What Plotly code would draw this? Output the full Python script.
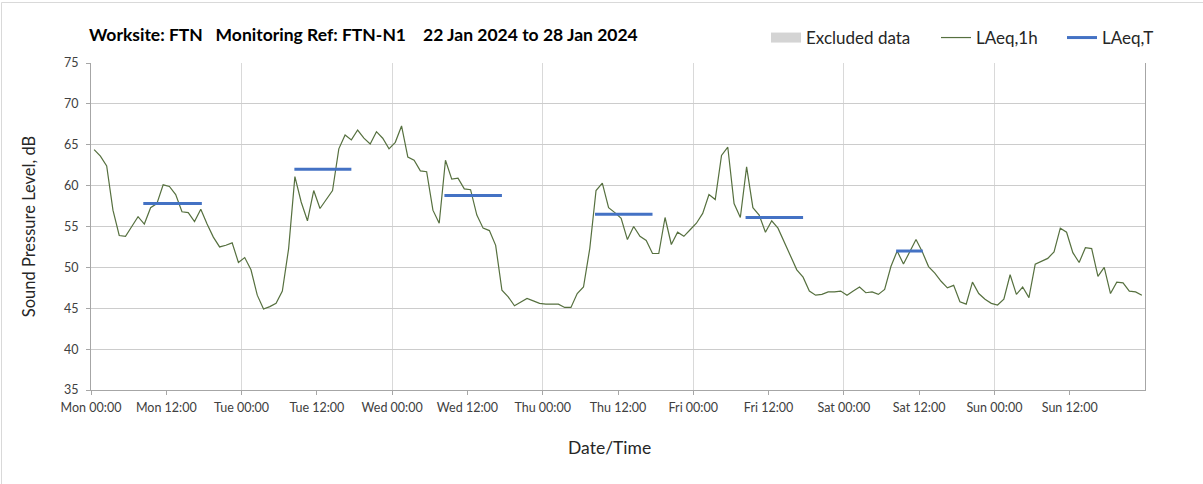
import pandas as pd
import plotly.graph_objects as go

# Hourly LAeq,1h values (dB), one list per day
mon = [64.4, 63.6, 62.4, 57.0, 53.9, 53.8, 55.0, 56.2, 55.3, 57.3, 57.8, 60.1,
       59.9, 58.9, 56.8, 56.7, 55.6, 57.1, 55.3, 53.7, 52.5, 52.7, 53.0, 50.6]
tue = [51.2, 49.7, 46.6, 44.9, 45.2, 45.6, 47.1, 52.3, 61.1, 58.0, 55.7, 59.4,
       57.2, 58.3, 59.4, 64.5, 66.2, 65.6, 66.8, 65.8, 65.1, 66.6, 65.8, 64.5]
wed = [65.3, 67.3, 63.5, 63.1, 61.8, 61.7, 57.0, 55.4, 63.1, 60.8, 60.9, 59.6,
       59.5, 56.4, 54.8, 54.5, 52.7, 47.2, 46.4, 45.3, 45.7, 46.2, 45.9, 45.6]
thu = [45.5, 45.5, 45.5, 45.1, 45.1, 46.8, 47.6, 52.3, 59.4, 60.3, 57.3, 56.7,
       56.0, 53.4, 55.0, 53.8, 53.3, 51.7, 51.7, 56.1, 52.8, 54.3, 53.8, 54.6]
fri = [55.4, 56.6, 58.9, 58.3, 63.7, 64.7, 57.8, 56.1, 62.3, 57.3, 56.4, 54.3,
       55.7, 54.8, 53.1, 51.6, 49.7, 48.8, 47.1, 46.6, 46.7, 47.0, 47.0, 47.1]
sat = [46.6, 47.1, 47.6, 46.9, 47.0, 46.7, 47.3, 50.1, 52.0, 50.4, 52.0, 53.4,
       51.9, 50.1, 49.3, 48.3, 47.5, 47.8, 45.8, 45.5, 48.2, 46.8, 46.1, 45.6]
sun = [45.4, 46.1, 49.1, 46.7, 47.6, 46.3, 50.4, 50.8, 51.1, 51.9, 54.8, 54.3,
       51.8, 50.6, 52.4, 52.3, 48.9, 50.0, 46.8, 48.2, 48.1, 47.1, 47.0, 46.6]

# LAeq,T periods
period_start = ["2024-01-22 08:20", "2024-01-23 08:25", "2024-01-24 08:20",
                "2024-01-25 08:20", "2024-01-26 08:20", "2024-01-27 08:20"]
period_end = ["2024-01-22 17:40", "2024-01-23 17:30", "2024-01-24 17:30",
              "2024-01-25 17:30", "2024-01-26 17:30", "2024-01-27 12:35"]
period_laeq = [57.8, 62.0, 58.8, 56.5, 56.1, 52.0]

title_text = ("Worksite: FTN\u00a0\u00a0\u00a0Monitoring Ref: FTN-N1"
              "\u00a0\u00a0\u00a0\u00a022 Jan 2024 to 28 Jan 2024")

laeq_1h = mon + tue + wed + thu + fri + sat + sun
times = pd.date_range("2024-01-22 00:30", periods=len(laeq_1h), freq="h")
tick_dates = pd.date_range("2024-01-22 00:00", periods=14, freq="12h")

seg_x, seg_y = [], []
for s, e, v in zip(period_start, period_end, period_laeq):
    seg_x += [s, e, None]
    seg_y += [v, v, None]

FONT = "Lato"
W, H = 1203, 484
L, R, T, B = 91, 58, 63, 94
PW, PH = W - L - R, H - T - B


def px_x(p):
    return (p - L) / PW


def px_y(p):
    return (H - B - p) / PH


fig = go.Figure()
fig.add_trace(go.Scatter(x=[None], y=[None], mode="lines", name="Excluded data",
                         line=dict(width=10, color="#d4d4d4"), legend="legend"))
fig.add_trace(go.Scatter(x=times, y=laeq_1h, mode="lines", name="LAeq,1h",
                         line=dict(color="#56703f", width=1.2), legend="legend2"))
fig.add_trace(go.Scatter(x=seg_x, y=seg_y, mode="lines", name="LAeq,T",
                         line=dict(color="#4472c4", width=3), legend="legend3"))

leg_common = dict(orientation="h", xanchor="left", yanchor="middle", y=px_y(38),
                  font=dict(family=FONT, size=17, color="#262626"),
                  bgcolor="rgba(0,0,0,0)", borderwidth=0, itemwidth=30)

fig.update_layout(
    width=W, height=H,
    margin=dict(l=L, r=R, t=T, b=B),
    paper_bgcolor="white", plot_bgcolor="white",
    font=dict(family=FONT, color="#404040"),
    title=dict(text="<b>" + title_text + "</b>", x=89 / W, xanchor="left",
               y=1 - 35 / H, yanchor="middle",
               font=dict(family=FONT, size=17.5, color="#000000")),
    legend=dict(x=px_x(766), **leg_common),
    legend2=dict(x=px_x(936), **leg_common),
    legend3=dict(x=px_x(1062), **leg_common),
    showlegend=True,
)
fig.update_xaxes(
    type="date",
    range=["2024-01-22 00:00", "2024-01-29 00:00"],
    tickmode="array", tickvals=tick_dates,
    tickformat="%a %H:%M",
    showgrid=False,
    minor=dict(tickmode="linear", tick0="2024-01-22 00:00", dtick=24 * 3600 * 1000,
               showgrid=True, gridcolor="#d9d9d9", gridwidth=1, ticks=""),
    ticks="outside", ticklen=4, tickcolor="#a6a6a6",
    showline=True, linecolor="#a6a6a6", linewidth=1,
    tickfont=dict(family=FONT, size=12.5, color="#404040"),
    ticklabelstandoff=2,
    zeroline=False,
)
fig.update_yaxes(
    range=[35, 75], dtick=5,
    showgrid=True, gridcolor="#cccccc", gridwidth=1,
    ticks="outside", ticklen=4, tickcolor="#a6a6a6",
    showline=True, linecolor="#a6a6a6", linewidth=1, mirror=True,
    tickfont=dict(family=FONT, size=12.5, color="#404040"),
    ticklabelstandoff=5,
    title=dict(text="Sound Pressure Level, dB",
               font=dict(family=FONT, size=16.5, color="#262626"), standoff=24),
    zeroline=False,
)
# x-axis title placed as in the reference (slightly left of plot centre)
fig.add_annotation(text="Date/Time", xref="paper", yref="paper",
                   x=px_x(609), y=px_y(447), xanchor="center", yanchor="middle",
                   showarrow=False, font=dict(family=FONT, size=17.5, color="#262626"))
# outer chart-area border (top and left edges visible in the reference)
fig.add_shape(type="line", xref="paper", yref="paper",
              x0=px_x(1.5), x1=px_x(W), y0=px_y(2.5), y1=px_y(2.5),
              line=dict(color="#d9d9d9", width=1))
fig.add_shape(type="line", xref="paper", yref="paper",
              x0=px_x(1.5), x1=px_x(1.5), y0=px_y(2.5), y1=px_y(H),
              line=dict(color="#d9d9d9", width=1))

fig.write_html("out.html", config={"displayModeBar": False},
               post_script="document.body.style.margin='0px';")
